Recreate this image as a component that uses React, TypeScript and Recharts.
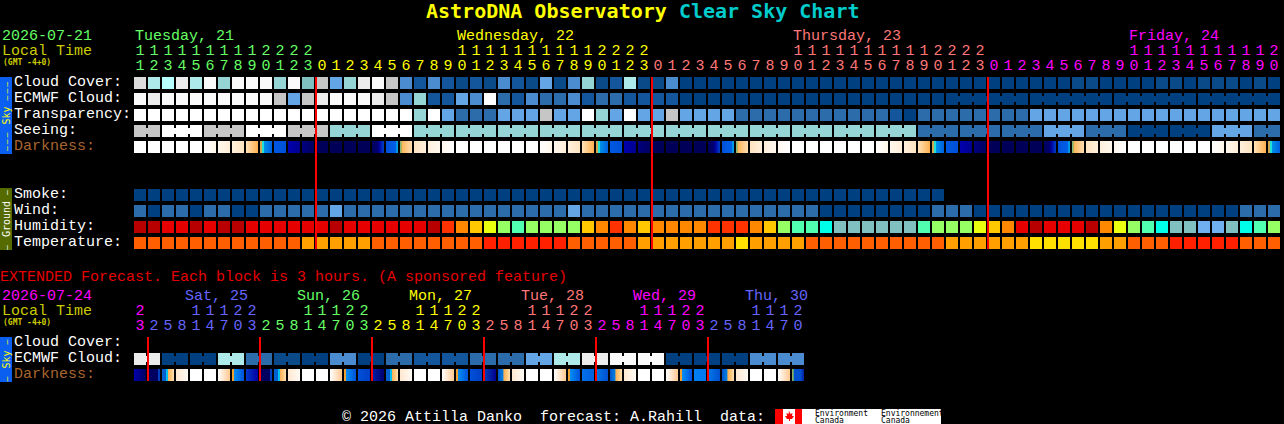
import React from "react";
import { ScatterChart, Scatter, XAxis, YAxis } from "recharts";

// ---------- categories / labels ----------
const mainHours = [
  11,12,13,14,15,16,17,18,19,20,21,22,23,
  0,1,2,3,4,5,6,7,8,9,10,11,12,13,14,15,16,17,18,19,20,21,22,23,
  0,1,2,3,4,5,6,7,8,9,10,11,12,13,14,15,16,17,18,19,20,21,22,23,
  0,1,2,3,4,5,6,7,8,9,10,11,12,13,14,15,16,17,18,19,20,
];
const extHours = [
  23,
  2,5,8,11,14,17,20,23,
  2,5,8,11,14,17,20,23,
  2,5,8,11,14,17,20,23,
  2,5,8,11,14,17,20,23,
  2,5,8,11,14,17,20,23,
  2,5,8,11,14,17,20,
];
const mainDayNames = ["Tuesday, 21", "Wednesday, 22", "Thursday, 23", "Friday, 24"];
const mainDayStartCols = [0, 13, 37, 61];
const mainDayLabelCols = [0, 23, 47, 71];
const extDayNames = ["", "Sat, 25", "Sun, 26", "Mon, 27", "Tue, 28", "Wed, 29", "Thu, 30"];
const extDayStartCols = [0, 1, 9, 17, 25, 33, 41];
const extDayLabelCols = [-1, 4, 12, 20, 28, 36, 44];
const mainRowLabels = ["Cloud Cover:", "ECMWF Cloud:", "Transparency:", "Seeing:", "Darkness:", "", "", "Smoke:", "Wind:", "Humidity:", "Temperature:"];
const extRowLabels = ["Cloud Cover:", "ECMWF Cloud:", "Darkness:"];
const mainMidnightCols = [13, 37, 61];
const extMidnightCols = [1, 9, 17, 25, 33, 41];

// ---------- series values (levels) ----------
const cloudCover = [
  11,8,9,12,8,13,7,13,13,13,
  7,13,6,10,5,7,12,13,10,4,
  2,4,2,1,2,1,4,2,1,5,
  1,4,7,1,2,8,1,1,4,0,
  0,0,0,0,0,0,0,0,0,0,
  0,0,0,0,0,0,0,0,0,0,
  0,0,0,0,0,0,0,1,1,0,
  0,0,0,1,1,0,1,1,1,0,
  1,0,
];
const ecmwfCloud = [
  13,12,13,13,13,13,13,13,13,13,
  10,5,10,12,13,13,13,12,10,4,
  7,2,2,5,4,14,3,2,4,3,
  3,4,2,3,3,2,2,2,2,0,
  0,0,0,0,0,0,0,0,0,0,
  0,0,0,0,0,0,0,0,0,0,
  0,0,0,0,0,0,0,0,0,0,
  0,0,0,0,0,0,0,0,0,0,
  0,0,
];
const ecmwfSpans = [
  1,1,1,1,1,1,1,1,1,1,1,1,1,1,1,1,1,1,1,1,1,1,1,1,1,1,1,1,1,
  1,1,1,1,1,1,1,1,1,1,1,1,1,1,1,1,1,1,1,1,1,1,1,1,1,1,1,1,1,
  6,6,6,6,
];
const transparency = [
  14,14,14,14,14,14,14,14,14,14,
  14,14,14,14,14,14,14,14,14,14,
  7,14,5,3,3,3,5,5,5,10,
  5,5,14,7,5,14,5,5,10,5,
  5,5,5,3,3,3,3,3,3,3,
  3,3,3,3,2,0,3,3,3,3,
  3,3,3,3,5,5,5,5,5,5,
  5,5,5,5,5,5,5,5,5,5,
  5,5,
];
const seeing = [
  10,10,14,14,14,10,10,10,14,14,
  14,10,10,10,7,7,7,14,14,14,
  7,7,7,7,7,7,7,7,7,7,
  7,7,7,7,7,7,7,7,7,7,
  7,7,7,7,7,7,7,7,7,7,
  7,7,7,7,7,7,3,3,3,3,
  3,3,3,3,3,5,5,5,3,3,
  3,0,0,0,0,0,0,5,5,5,
  3,3,
];
const seeingSpans = [2,3,3,3,3,3,3,3,3,3,3,3,3,3,3,3,3,3,3,3,3,3,3,3,3,3,3,2];
const darkness = [
  "w","w","w","w","w","c1","c2","c3","s","t",
  "b","d","n1","n","n","n","n","a","e","f",
  "r3","r2","r1","w","w","w","w","w","w","c1",
  "c2","c3","s","t","b","d","n1","n","n","n",
  "n","a","e","f","r3","r2","r1","w","w","w",
  "w","w","w","c1","c2","c3","s","t","b","d",
  "n1","n","n","n","n","a","e","f","r3","r2",
  "r1","w","w","w","w","w","w","c1","c2","c3",
  "s","t",
];
const smoke = [
  0,0,0,0,0,0,0,0,0,0,
  0,0,0,0,0,0,0,0,0,0,
  0,0,0,0,0,0,0,0,0,0,
  0,0,0,0,0,0,0,0,0,0,
  0,0,0,0,0,0,0,0,0,0,
  0,0,0,0,0,0,0,0,
];
const wind = [
  3,0,3,3,0,3,3,0,0,3,
  3,3,3,3,5,3,3,3,3,3,
  3,3,3,3,3,3,3,3,3,3,
  3,5,3,3,3,3,3,3,3,3,
  3,3,3,3,3,3,3,3,3,0,
  0,0,0,0,0,0,0,3,3,3,
  0,0,0,0,0,0,0,0,0,0,
  0,0,0,0,0,0,0,0,0,3,
  3,3,
];
const humidity = [
  0,0,1,1,0,1,0,0,1,1,
  1,1,1,1,0,1,1,1,1,1,
  1,0,2,3,4,5,6,7,6,6,
  6,6,4,3,2,3,4,3,3,3,
  3,2,2,2,3,4,6,7,7,8,
  9,9,9,9,9,9,7,6,6,6,
  5,4,3,1,0,1,1,1,0,3,
  5,6,7,8,9,9,10,10,9,8,
  7,6,
];
const temperature = [
  1,1,1,1,1,1,1,1,1,1,
  1,1,2,2,2,2,2,1,1,1,
  1,1,1,1,1,0,0,0,0,0,
  0,1,1,1,1,1,2,2,2,2,
  2,2,2,3,2,2,2,2,1,1,
  1,1,1,1,1,1,1,1,2,2,
  2,2,2,2,3,3,3,3,3,2,
  2,1,1,1,0,0,0,0,0,1,
  1,1,
];
const extEcmwf = [
  12,12,0,0,0,0,8,8,3,3,
  1,1,0,0,4,4,0,0,3,3,
  2,2,2,2,3,3,3,3,5,5,
  8,8,12,12,13,13,13,13,0,0,
  0,0,0,0,4,4,4,4,
];
const extEcmwfSpans = [2,2,2,2,2,2,2,2,2,2,2,2,2,2,2,2,2,2,2,2,2,2,2,2];
const extDarkness = [
  "x0","x1","x2","x3","w","w","x6","x7",
  "x8","x1","x2","x3","w","w","x6","x7",
  "y2","x17","x2","x3","w","w","x6","x7",
  "y2","y3","y4","x3","w","w","x6","x7",
  "y1","y6","y4","x3","w","w","x6","x7",
  "y5","y6","y4","x3","w","w","x6","y7",
];

// ---------- styles ----------
const cloudPalette = ["#003f80","#0a4a88","#13569b","#2c6cab","#4b8bd0","#64a5e6","#80c0c0","#95d5d5","#aeeaea","#b8ffff","#c6c6c6","#dcdcdc","#ececec","#fafafa","#ffffff"];
const humidityPalette = ["#b80000","#e60000","#ff3300","#ff8800","#ffc800","#eaff10","#96ff64","#50ffb0","#00ffe8","#80c0c0","#70b0f0"];
const temperaturePalette = ["#ff2000","#ff5f00","#ffa000","#ffe000"];
const mainDayColors = ["#66ff66", "#ffff00", "#ff7777", "#ff00ff"];
const extDayColors = ["#ff00ff", "#6666ff", "#66ff66", "#ffff00", "#ff7777", "#ff00ff", "#6666ff"];
const darkStops: Record<string, [number, string][]> = {
  w: [[0,"#ffffff"],[1,"#ffffff"]],
  c1: [[0,"#ffffff"],[1,"#fff6ea"]],
  c2: [[0,"#fff8ee"],[1,"#ffeed8"]],
  c3: [[0,"#fff0dc"],[1,"#ffe4c0"]],
  s: [[0,"#ffe2b8"],[1,"#ffb050"]],
  t: [[0,"#d0a850"],[0.16,"#d0a850"],[0.17,"#20e0d8"],[0.33,"#20e0d8"],[0.34,"#0090e8"],[1,"#0060e0"]],
  b: [[0,"#0058e0"],[1,"#0050d8"]],
  d: [[0,"#0000b0"],[1,"#000090"]],
  n1: [[0,"#000080"],[1,"#000060"]],
  n: [[0,"#000058"],[1,"#000058"]],
  a: [[0,"#000060"],[0.5,"#000070"],[0.6,"#0000a0"],[1,"#0040c8"]],
  e: [[0,"#0050d8"],[0.8,"#0060e8"],[0.85,"#0090e8"],[1,"#00a0e0"]],
  f: [[0,"#60c0a0"],[0.15,"#d0a840"],[0.2,"#ffb860"],[1,"#ffdcb0"]],
  r3: [[0,"#ffe4c0"],[1,"#fff0dc"]],
  r2: [[0,"#fff0dc"],[1,"#fff8ee"]],
  r1: [[0,"#fff8ee"],[1,"#ffffff"]],
  x0: [[0,"#0000b0"],[1,"#000060"]],
  x1: [[0,"#000060"],[0.8,"#000060"],[0.85,"#0040c0"],[1,"#0040c0"]],
  x2: [[0,"#0060d0"],[0.33,"#0060d0"],[0.34,"#00c0f0"],[0.5,"#00c0f0"],[0.51,"#ffb050"],[1,"#ffe0b0"]],
  x3: [[0,"#ffe8d0"],[1,"#fffaf5"]],
  x6: [[0,"#ffffff"],[1,"#ffc890"]],
  x7: [[0,"#f0a030"],[0.15,"#f0a030"],[0.16,"#0090f0"],[0.6,"#0070e8"],[1,"#0050d8"]],
  x8: [[0,"#0038c8"],[1,"#0000a0"]],
  x17: [[0,"#0020a8"],[1,"#000070"]],
  y1: [[0,"#0070e8"],[1,"#0060e0"]],
  y2: [[0,"#0050d8"],[1,"#0040c8"]],
  y3: [[0,"#0040b8"],[1,"#000090"]],
  y4: [[0,"#0050d0"],[0.4,"#0080e0"],[0.5,"#ffb050"],[1,"#ffe0b0"]],
  y5: [[0,"#0080f0"],[1,"#0078f0"]],
  y6: [[0,"#0078e8"],[1,"#0050d0"]],
  y7: [[0,"#c0a860"],[0.15,"#30a080"],[0.2,"#0050d0"],[0.7,"#0050d0"],[1,"#0020a0"]],
};
const MONO = "'Liberation Mono', monospace";
const DEJAVU = "'DejaVu Sans Mono', monospace";

// ---------- helpers ----------
const joinsFromSpans = (spans: number[]) => {
  const joined = new Set<number>();
  let col = 0;
  spans.forEach((len) => {
    for (let i = 0; i < len - 1; i++) joined.add(col + i);
    col += len;
  });
  return joined;
};
const numPoints = (values: number[], row: number, palette: string[], spans?: number[]) => {
  const joins = spans ? joinsFromSpans(spans) : new Set<number>();
  return values.map((v, col) => ({ col, row, fill: palette[v], join: joins.has(col) }));
};
const darkPoints = (codes: string[], row: number) =>
  codes.map((c, col) => ({ col, row, fill: `url(#dk-${c})`, join: false }));

const Cell = (props: any) => {
  const { cx, cy, payload } = props;
  return (
    <g>
      <rect x={cx} y={cy} width={12} height={12} fill={payload.fill} />
      {payload.join ? <rect x={cx + 12} y={cy + 3} width={2} height={6} fill={payload.fill} /> : null}
    </g>
  );
};
const NoPoint = () => null;

const colorAt = (col: number, starts: number[], colors: string[]) => {
  let c = colors[0];
  starts.forEach((s, i) => { if (col >= s) c = colors[i]; });
  return c;
};

const makeHourTick = (
  hours: number[], starts: number[], labelCols: number[], names: string[], colors: string[],
  dayY: number, tensY: number, unitsY: number, labelDx: number,
) => (props: any) => {
  const col: number = props.payload.value;
  const h = hours[col];
  const color = colorAt(col, starts, colors);
  const li = labelCols.indexOf(col);
  return (
    <g key={col}>
      {li >= 0 ? (
        <text x={props.x + labelDx} y={dayY} fill={colors[li]} fontFamily={MONO} fontSize={15}>{names[li]}</text>
      ) : null}
      {h >= 10 ? (
        <text x={props.x + 6} y={tensY} textAnchor="middle" fill={color} fontFamily={MONO} fontSize={15}>{Math.floor(h / 10)}</text>
      ) : null}
      <text x={props.x + 6} y={unitsY} textAnchor="middle" fill={color} fontFamily={MONO} fontSize={15}>{h % 10}</text>
    </g>
  );
};

const makeRowTick = (labels: string[]) => (props: any) => {
  const label = labels[props.payload.value];
  const color = label === "Darkness:" ? "#a8652f" : "#ffffff";
  return (
    <text key={label} x={14} y={props.y + 9} fill={color} fontFamily={MONO} fontSize={15}>{label}</text>
  );
};

const colTicks = (n: number) => Array.from({ length: n }, (_, i) => i);

const SideLabel = ({ y, color, dashes, word }: { y: number; color: string; dashes: string; word: string }) => (
  <text transform={`translate(9.5,${y}) rotate(-90)`} textAnchor="middle" fontFamily={DEJAVU} fontSize={10} fill={color} style={{ whiteSpace: "pre" }}>
    <tspan fontSize={8} letterSpacing={2}>{dashes}</tspan> {word} <tspan fontSize={8} letterSpacing={2}>{dashes}</tspan>
  </text>
);

const Backdrop = () => (
  <svg width={1284} height={424} style={{ position: "absolute", left: 0, top: 0 }}>
    <defs>
      {Object.entries(darkStops).map(([k, stops]) => (
        <linearGradient key={k} id={`dk-${k}`} x1="0" x2="1" y1="0" y2="0">
          {stops.map(([o, c], i) => <stop key={i} offset={o} stopColor={c} />)}
        </linearGradient>
      ))}
    </defs>
    <text x={426} y={18} fontFamily={DEJAVU} fontWeight="bold" fontSize={20} fill="#ffff00" style={{ whiteSpace: "pre" }}>
      AstroDNA Observatory <tspan fill="#00cccc">Clear Sky Chart</tspan>
    </text>
    <text x={2} y={40} fontFamily={MONO} fontSize={15} fill="#66ff66">2026-07-21</text>
    <text x={2} y={54.5} fontFamily={MONO} fontSize={15} fill="#cccc00">Local Time</text>
    <text x={3} y={65} fontFamily={DEJAVU} fontSize={8} fontWeight="bold" fill="#cccc00">(GMT -4+0)</text>
    <text x={0} y={281} fontFamily={MONO} fontSize={15} fill="#e60000">EXTENDED Forecast. Each block is 3 hours. (A sponsored feature)</text>
    <text x={2} y={300} fontFamily={MONO} fontSize={15} fill="#ff00ff">2026-07-24</text>
    <text x={2} y={314.5} fontFamily={MONO} fontSize={15} fill="#cccc00">Local Time</text>
    <text x={3} y={325} fontFamily={DEJAVU} fontSize={8} fontWeight="bold" fill="#cccc00">(GMT -4+0)</text>

    <rect x={0} y={77} width={12} height={77} fill="#0a5ff0" />
    <SideLabel y={115.5} color="#ffff00" dashes="–––" word="Sky" />
    <rect x={0} y={188} width={12} height={62} fill="#556b00" />
    <SideLabel y={219} color="#ffffff" dashes="–" word="Ground" />
    <rect x={0} y={337} width={12} height={45} fill="#0a5ff0" />
    <SideLabel y={359.5} color="#ffff00" dashes="–" word="Sky" />

    <text x={342} y={420.5} fontFamily={MONO} fontSize={15} fill="#ffffff" style={{ whiteSpace: "pre" }}>© 2026 Attilla Danko  forecast: A.Rahill  data:</text>
    <rect x={775} y={409} width={166} height={15} fill="#ffffff" />
    <rect x={775} y={409} width={8} height={15} fill="#ff0000" />
    <rect x={795} y={409} width={7} height={15} fill="#ff0000" />
    <path d="M789 411 l1.5 3 l2 -1 l-0.5 3 l2 0 l-2 3 l-2 0 l0 2 l-1 0 l0 -2 l-2 0 l-2 -3 l2 0 l-0.5 -3 l2 1 z" fill="#ff0000" />
    <text x={815} y={416} fontFamily={DEJAVU} fontSize={8} fill="#000000">Environment</text>
    <text x={815} y={423} fontFamily={DEJAVU} fontSize={8} fill="#000000">Canada</text>
    <text x={881} y={416} fontFamily={DEJAVU} fontSize={8} fill="#000000">Environnement</text>
    <text x={881} y={423} fontFamily={DEJAVU} fontSize={8} fill="#000000">Canada</text>
  </svg>
);

const mainTick = makeHourTick(mainHours, mainDayStartCols, mainDayLabelCols, mainDayNames, mainDayColors, 40, 55, 70, 1);
const extTick = makeHourTick(extHours, extDayStartCols, extDayLabelCols, extDayNames, extDayColors, 300, 315, 330, -5);

export default function App() {
  return (
    <div style={{ position: "absolute", left: 0, top: 0, width: 1284, height: 424, background: "#000", overflow: "hidden" }}>
      <Backdrop />
      <div style={{ position: "absolute", left: 0, top: 0 }}>
        <ScatterChart width={1284} height={253} margin={{ top: 47, left: 0, right: 2, bottom: 0 }}>
          <XAxis type="number" dataKey="col" domain={[0, 82]} orientation="top" height={30} ticks={colTicks(82)} interval={0} axisLine={false} tickLine={false} tick={mainTick} />
          <YAxis type="number" dataKey="row" domain={[0, 11]} reversed width={134} ticks={[0, 1, 2, 3, 4, 7, 8, 9, 10]} interval={0} axisLine={false} tickLine={false} tick={makeRowTick(mainRowLabels)} />
          <Scatter data={numPoints(cloudCover, 0, cloudPalette)} shape={Cell} isAnimationActive={false} />
          <Scatter data={numPoints(ecmwfCloud, 1, cloudPalette, ecmwfSpans)} shape={Cell} isAnimationActive={false} />
          <Scatter data={numPoints(transparency, 2, cloudPalette)} shape={Cell} isAnimationActive={false} />
          <Scatter data={numPoints(seeing, 3, cloudPalette, seeingSpans)} shape={Cell} isAnimationActive={false} />
          <Scatter data={darkPoints(darkness, 4)} shape={Cell} isAnimationActive={false} />
          <Scatter data={numPoints(smoke, 7, cloudPalette)} shape={Cell} isAnimationActive={false} />
          <Scatter data={numPoints(wind, 8, cloudPalette)} shape={Cell} isAnimationActive={false} />
          <Scatter data={numPoints(humidity, 9, humidityPalette)} shape={Cell} isAnimationActive={false} />
          <Scatter data={numPoints(temperature, 10, temperaturePalette)} shape={Cell} isAnimationActive={false} />
          {mainMidnightCols.map((c) => (
            <Scatter key={c} data={[{ col: c, row: 0 }, { col: c, row: 10.75 }]} line={{ stroke: "#ff0000", strokeWidth: 2 }} shape={NoPoint} isAnimationActive={false} />
          ))}
        </ScatterChart>
      </div>
      <div style={{ position: "absolute", left: 0, top: 0 }}>
        <ScatterChart width={1284} height={385} margin={{ top: 307, left: 0, right: 2, bottom: 0 }}>
          <XAxis type="number" dataKey="col" domain={[0, 82]} orientation="top" height={30} ticks={colTicks(48)} interval={0} axisLine={false} tickLine={false} tick={extTick} />
          <YAxis type="number" dataKey="row" domain={[0, 3]} reversed width={134} ticks={[0, 1, 2]} interval={0} axisLine={false} tickLine={false} tick={makeRowTick(extRowLabels)} />
          <Scatter data={numPoints(extEcmwf, 1, cloudPalette, extEcmwfSpans)} shape={Cell} isAnimationActive={false} />
          <Scatter data={darkPoints(extDarkness, 2)} shape={Cell} isAnimationActive={false} />
          {extMidnightCols.map((c) => (
            <Scatter key={c} data={[{ col: c, row: 0 }, { col: c, row: 2.75 }]} line={{ stroke: "#ff0000", strokeWidth: 2 }} shape={NoPoint} isAnimationActive={false} />
          ))}
        </ScatterChart>
      </div>
    </div>
  );
}
